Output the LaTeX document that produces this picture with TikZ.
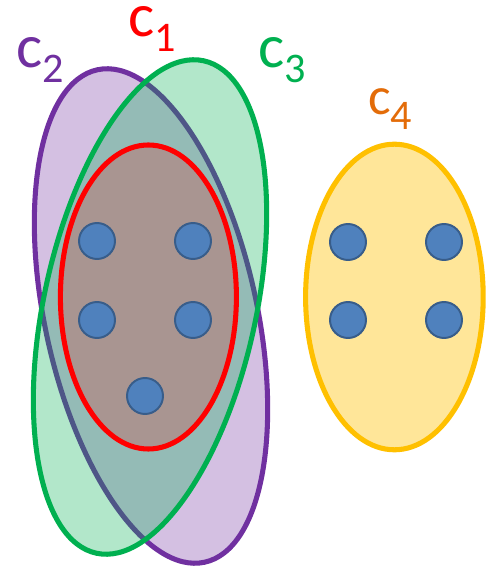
\documentclass[tikz,border=0pt]{standalone}
\usepackage{fontspec}
\setmainfont{Carlito}
\usepackage{tikz}
\definecolor{cluRed}{HTML}{FF0000}
\definecolor{cluPurple}{HTML}{7030A0}
\definecolor{cluGreen}{HTML}{00B050}
\definecolor{cluYellow}{HTML}{FFC000}
\definecolor{cluOrange}{HTML}{E36C09}
\definecolor{ptBlue}{HTML}{4F81BD}
\definecolor{ptEdge}{HTML}{385D8A}

\begin{document}
\begin{tikzpicture}[
  clu/.style={line width=3.6pt,fill opacity=0.3},
  pt/.style={circle,fill=ptBlue,draw=ptEdge,line width=1.4pt,minimum size=0.9cm,inner sep=0pt},
  lab/.style={anchor=base west,inner sep=0pt,font=\fontsize{44}{44}\selectfont}]
  \useasboundingbox (0,0) rectangle (12.15,14.15);
  % clusters (c2 and c3 tilted)
  \draw[clu,cluPurple,fill=cluPurple,shift={(3.775,6.25)},rotate=12.3] (0,0) ellipse[x radius=2.65,y radius=6.3];
  \draw[clu,cluGreen,fill=cluGreen,shift={(3.75,6.475)},rotate=-12.3] (0,0) ellipse[x radius=2.65,y radius=6.3];
  \draw[clu,cluRed,fill=cluRed,fill opacity=0.2] (3.71,6.725) ellipse[x radius=2.2,y radius=3.8];
  \draw[clu,cluYellow,fill=cluYellow,fill opacity=0.4] (9.86,6.725) ellipse[x radius=2.22,y radius=3.82];
  % points
  \foreach \x/\y/\n in {2.425/8.125/p1, 4.825/8.125/p2, 2.425/6.15/p3, 4.825/6.15/p4, 3.625/4.25/p5,
                        8.7/8.1/q1, 11.1/8.1/q2, 8.7/6.15/q3, 11.1/6.15/q4}
    \node[pt] (\n) at (\x,\y) {};
  % cluster names
  \node[lab,text=cluRed] (c1) at (3.2,13.225) {c\raisebox{-10.6pt}{\fontsize{30}{30}\selectfont 1}};
  \node[lab,text=cluPurple] (c2) at (0.4,12.45) {c\raisebox{-10.6pt}{\fontsize{30}{30}\selectfont 2}};
  \node[lab,text=cluGreen] (c3) at (6.45,12.45) {c\raisebox{-10.6pt}{\fontsize{30}{30}\selectfont 3}};
  \node[lab,text=cluOrange,font=\fontsize{38}{38}\selectfont] (c4) at (9.2,11.275) {c\raisebox{-10.6pt}{\fontsize{30}{30}\selectfont 4}};
\end{tikzpicture}
\end{document}
